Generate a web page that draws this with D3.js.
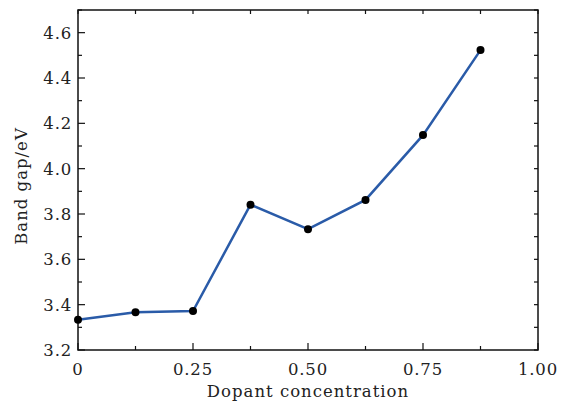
<!DOCTYPE html>
<html>
<head>
<meta charset="utf-8">
<script src="https://cdn.jsdelivr.net/npm/d3@7"></script>
<style>
body { margin: 0; background: #fff; }
</style>
</head>
<body>
<svg width="574" height="406"></svg>
<script>
var concentration = [0, 0.125, 0.25, 0.375, 0.5, 0.625, 0.75, 0.875];
var bandGap = [3.333, 3.366, 3.372, 3.841, 3.733, 3.862, 4.148, 4.523];
var xTicks = [0, 0.25, 0.5, 0.75, 1.0];
var xTickLabels = ["0", "0.25", "0.50", "0.75", "1.00"];
var yTicks = [3.2, 3.4, 3.6, 3.8, 4.0, 4.2, 4.4, 4.6];

var svg = d3.select("svg");
var margin = {top: 10, right: 36, bottom: 56, left: 78};
var width = +svg.attr("width") - margin.left - margin.right;
var height = +svg.attr("height") - margin.top - margin.bottom;
var g = svg.append("g").attr("transform", "translate(" + margin.left + "," + margin.top + ")");

var serif = "DejaVu Serif";

var x = d3.scaleLinear().domain([0, 1]).range([0, width]);
var y = d3.scaleLinear().domain([3.2, 4.7]).range([height, 0]);

var minorX = d3.range(0, 1.001, 0.125);
var minorY = d3.range(3.2, 4.701, 0.1);

// box
g.append("rect").attr("width", width).attr("height", height)
    .attr("fill", "none").attr("stroke", "#111").attr("stroke-width", 1.5);

// bottom ticks
g.selectAll(".bx").data(minorX).enter().append("line")
    .attr("x1", function (d) { return x(d); }).attr("x2", function (d) { return x(d); })
    .attr("y1", height).attr("y2", function (d, i) { return height - (i % 2 === 0 ? 7 : 4); })
    .attr("stroke", "#111").attr("stroke-width", 1.2);
// top ticks
g.selectAll(".tx").data(minorX).enter().append("line")
    .attr("x1", function (d) { return x(d); }).attr("x2", function (d) { return x(d); })
    .attr("y1", 0).attr("y2", 4)
    .attr("stroke", "#111").attr("stroke-width", 1.2);
// left ticks
g.selectAll(".ly").data(minorY).enter().append("line")
    .attr("y1", function (d) { return y(d); }).attr("y2", function (d) { return y(d); })
    .attr("x1", 0).attr("x2", function (d, i) { return i % 2 === 0 ? 7 : 4; })
    .attr("stroke", "#111").attr("stroke-width", 1.2);
// right ticks
g.selectAll(".ry").data(minorY).enter().append("line")
    .attr("y1", function (d) { return y(d); }).attr("y2", function (d) { return y(d); })
    .attr("x1", width).attr("x2", width - 4)
    .attr("stroke", "#111").attr("stroke-width", 1.2);

// tick labels
g.selectAll(".xl").data(xTicks).enter().append("text")
    .attr("x", function (d) { return x(d); }).attr("y", height + 25)
    .attr("text-anchor", "middle").attr("font-family", serif).attr("fill", "#222")
    .attr("font-size", 16.5).attr("letter-spacing", 0.8)
    .text(function (d, i) { return xTickLabels[i]; });
g.selectAll(".yl").data(yTicks).enter().append("text")
    .attr("x", -6).attr("y", function (d) { return y(d) + 6; })
    .attr("text-anchor", "end").attr("font-family", serif).attr("fill", "#222")
    .attr("font-size", 16.5).attr("letter-spacing", 0.8)
    .text(function (d) { return d.toFixed(1); });

// axis titles
g.append("text").attr("x", width / 2).attr("y", height + 47)
    .attr("text-anchor", "middle").attr("font-family", serif).attr("fill", "#222")
    .attr("font-size", 16.5).attr("letter-spacing", 1)
    .text("Dopant concentration");
g.append("text").attr("transform", "translate(-51," + (height / 2 + 6) + ") rotate(-90)")
    .attr("text-anchor", "middle").attr("font-family", serif).attr("fill", "#222")
    .attr("font-size", 16.5).attr("letter-spacing", 1)
    .text("Band gap/eV");

var data = concentration.map(function (c, i) { return {x: c, y: bandGap[i]}; });

var line = d3.line().x(function (d) { return x(d.x); }).y(function (d) { return y(d.y); });
g.append("path").datum(data).attr("d", line)
    .attr("fill", "none").attr("stroke", "#2a5ba8").attr("stroke-width", 2.5);

g.selectAll(".pt").data(data).enter().append("circle")
    .attr("cx", function (d) { return x(d.x); }).attr("cy", function (d) { return y(d.y); })
    .attr("r", 4).attr("fill", "#000");
</script>
</body>
</html>
